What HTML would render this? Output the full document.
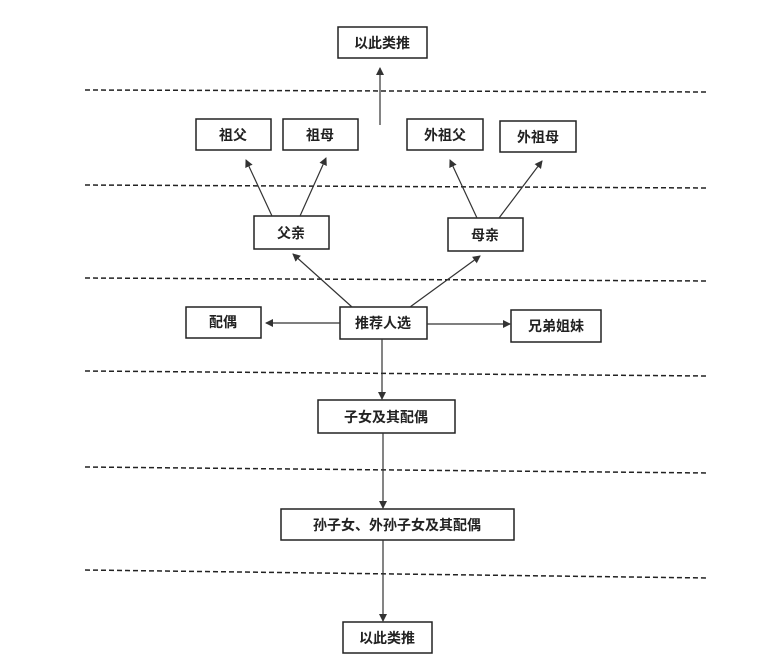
<!DOCTYPE html>
<html><head><meta charset="utf-8"><style>
body{margin:0;background:#fff;}
svg text{font-family:"Liberation Sans","Noto Sans CJK SC",sans-serif;font-size:14px;font-weight:bold;fill:#222;text-anchor:middle;dominant-baseline:central;}
</style></head><body>
<svg width="769" height="666" xmlns="http://www.w3.org/2000/svg">
<defs><marker id="a" markerWidth="8" markerHeight="8" refX="7" refY="4" orient="auto" markerUnits="userSpaceOnUse"><path d="M0,0 L8,4 L0,8 z" fill="#333"/></marker></defs>
<g stroke="#222" stroke-width="1.5" stroke-dasharray="5,3">
<line x1="85" y1="90" x2="708" y2="92"/>
<line x1="85" y1="185" x2="708" y2="188"/>
<line x1="85" y1="278" x2="708" y2="281"/>
<line x1="85" y1="371" x2="708" y2="376"/>
<line x1="85" y1="467" x2="708" y2="473"/>
<line x1="85" y1="570" x2="708" y2="578"/>
</g>
<g fill="#fff" stroke="#222" stroke-width="1.5">
<rect x="338" y="27" width="89" height="31"/>
<rect x="196" y="119" width="75" height="31"/>
<rect x="283" y="119" width="75" height="31"/>
<rect x="407" y="119" width="76" height="31"/>
<rect x="500" y="121" width="76" height="31"/>
<rect x="254" y="216" width="75" height="33"/>
<rect x="448" y="218" width="75" height="33"/>
<rect x="340" y="307" width="87" height="32"/>
<rect x="186" y="307" width="75" height="31"/>
<rect x="511" y="310" width="90" height="32"/>
<rect x="318" y="400" width="137" height="33"/>
<rect x="281" y="509" width="233" height="31"/>
<rect x="343" y="622" width="89" height="31"/>
</g>
<g stroke="#333" stroke-width="1.2" marker-end="url(#a)">
<line x1="380" y1="125" x2="380" y2="68"/>
<line x1="272" y1="216" x2="246" y2="160"/>
<line x1="300" y1="216" x2="326" y2="158"/>
<line x1="477" y1="218" x2="450" y2="160"/>
<line x1="499" y1="218" x2="542" y2="161"/>
<line x1="352" y1="307" x2="293" y2="254"/>
<line x1="410" y1="307" x2="480" y2="256"/>
<line x1="340" y1="323" x2="266" y2="323"/>
<line x1="427" y1="324" x2="510" y2="324"/>
<line x1="382" y1="339" x2="382" y2="399"/>
<line x1="383" y1="433" x2="383" y2="508"/>
<line x1="383" y1="540" x2="383" y2="621"/>
</g>
<text x="382" y="43">以此类推</text>
<text x="233" y="135">祖父</text>
<text x="320" y="135">祖母</text>
<text x="445" y="135">外祖父</text>
<text x="538" y="137">外祖母</text>
<text x="291" y="233">父亲</text>
<text x="485" y="235">母亲</text>
<text x="383" y="323">推荐人选</text>
<text x="223" y="322">配偶</text>
<text x="556" y="326">兄弟姐妹</text>
<text x="386" y="417">子女及其配偶</text>
<text x="397" y="525">孙子女、外孙子女及其配偶</text>
<text x="387" y="638">以此类推</text>
</svg>
</body></html>
